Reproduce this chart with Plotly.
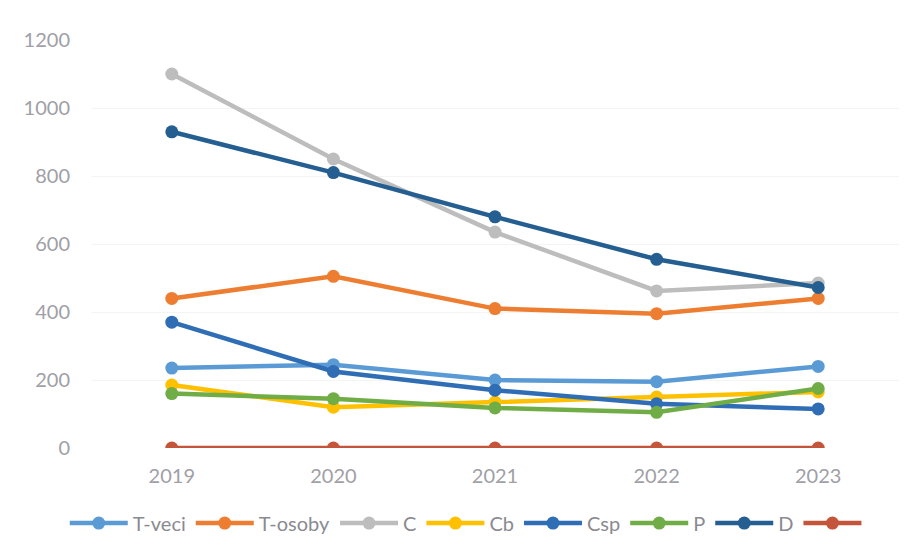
import plotly.graph_objects as go

# Data
years = [2019, 2020, 2021, 2022, 2023]
t_veci = [235, 245, 200, 195, 240]
t_osoby = [440, 505, 410, 395, 440]
c_vals = [1100, 850, 635, 462, 485]
cb_vals = [185, 120, 135, 150, 165]
csp_vals = [370, 225, 170, 130, 115]
p_vals = [160, 145, 118, 105, 175]
d_vals = [930, 810, 680, 555, 472]
blank_vals = [0, 0, 0, 0, 0]

series_names = ["T-veci", "T-osoby", "C", "Cb", "Csp", "P", "D", " "]
series_values = [t_veci, t_osoby, c_vals, cb_vals, csp_vals, p_vals, d_vals, blank_vals]
colors = ['#5B9BD5', '#ED7D31', '#BDBDBD', '#FFC000', '#2F6DB5', '#70AD47', '#255E91', '#C4553A']

fig = go.Figure()

for name, vals, col in zip(series_names, series_values, colors):
    fig.add_trace(go.Scatter(
        x=years, y=vals, name=name,
        mode='lines+markers',
        line=dict(color=col, width=4.5),
        marker=dict(color=col, size=13),
    ))

fig.update_layout(
    width=920, height=560,
    margin=dict(l=83, r=29, t=32, b=120),
    plot_bgcolor='white',
    paper_bgcolor='white',
    font=dict(family="Lato, Open Sans, sans-serif", size=20, color='#a0a0a6'),
    xaxis=dict(
        range=[2018.5, 2023.5],
        tickvals=years,
        showgrid=False,
        zeroline=False,
        showline=False,
        ticks='',
        automargin=False,
        ticklabelstandoff=14,
    ),
    yaxis=dict(
        range=[0, 1200],
        dtick=200,
        showgrid=True,
        gridcolor='#f4f4f4',
        zeroline=False,
        ticks='',
        automargin=False,
        ticklabelstandoff=20,
    ),
    legend=dict(
        orientation='h',
        x=0.47, xanchor='center',
        y=-0.184, yanchor='middle',
        font=dict(size=20, color='#8a8a90'),
        itemwidth=58,
        tracegroupgap=0,
    ),
)

fig.write_html("out.html")
